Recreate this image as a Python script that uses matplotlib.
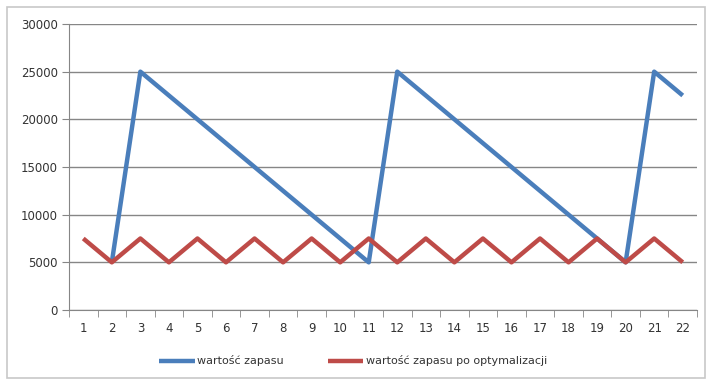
import matplotlib
matplotlib.use("Agg")
import matplotlib.pyplot as plt
from matplotlib.patches import Rectangle

categories = [str(i) for i in range(1, 23)]
zapas = [None, 5000, 25000, 22500, 20000, 17500, 15000, 12500, 10000, 7500, 5000,
         25000, 22500, 20000, 17500, 15000, 12500, 10000, 7500, 5000, 25000, 22500]
# note: index 0 has no value
zapas_opt = [7500, 5000, 7500, 5000, 7500, 5000, 7500, 5000, 7500, 5000, 7500,
             5000, 7500, 5000, 7500, 5000, 7500, 5000, 7500, 5000, 7500, 5000]
yticks = [0, 5000, 10000, 15000, 20000, 25000, 30000]

# fix: blue cycle reaches 5000 at category 11 and 20
zapas = [None, 5000, 25000, 22500, 20000, 17500, 15000, 12500, 10000, 7500, 5000,
         25000, 22500, 20000, 17500, 15000, 12500, 10000, 7500, 5000, 25000, 22500]

fig = plt.figure(figsize=(7.06, 3.81), dpi=100)
fig.patch.set_facecolor("white")
fig.patches.append(Rectangle((7/706, 3/381), 698/706, 371/381, transform=fig.transFigure,
                             fill=False, edgecolor="#c8c8c8", linewidth=1.2))
ax = fig.add_axes([69/706, 1-310/381, (697-69)/706, (310-24)/381])

x = list(range(len(categories)))
bx = [i for i, v in zip(x, zapas) if v is not None]
bv = [v for v in zapas if v is not None]
ax.plot(bx, bv, color="#4A7EBB", linewidth=3.2, solid_capstyle="butt",
        label="wartość zapasu", zorder=3)
ax.plot(x, zapas_opt, color="#BE4B48", linewidth=3.2, solid_capstyle="butt",
        label="wartość zapasu po optymalizacji", zorder=4)

ax.set_xlim(-0.5, len(categories) - 0.5)
ax.set_ylim(0, 30000)
ax.set_yticks(yticks)
ax.set_yticklabels([str(t) for t in yticks])
ax.set_xticks(x)
ax.set_xticklabels(categories)
ax.set_xticks([i - 0.5 for i in range(len(categories) + 1)], minor=True)
ax.tick_params(axis="x", which="major", length=0, pad=9)
ax.tick_params(axis="x", which="minor", length=5, color="#868686", direction="out")
ax.tick_params(axis="y", length=5, color="#868686", direction="out", pad=3)
ax.tick_params(labelsize=8.5, labelcolor="#333333")
ax.yaxis.grid(True, color="#868686", linewidth=1)
ax.set_axisbelow(True)
for s in ["top", "right"]:
    ax.spines[s].set_visible(False)
for s in ["left", "bottom"]:
    ax.spines[s].set_color("#868686")

leg = fig.legend(loc="center", bbox_to_anchor=(0.5, 1-361/381), ncol=2, frameon=False,
                 fontsize=8, handlelength=3.2, handletextpad=0.2, columnspacing=4,
                 labelcolor="#333333")

fig.savefig("out.png", dpi=100)
